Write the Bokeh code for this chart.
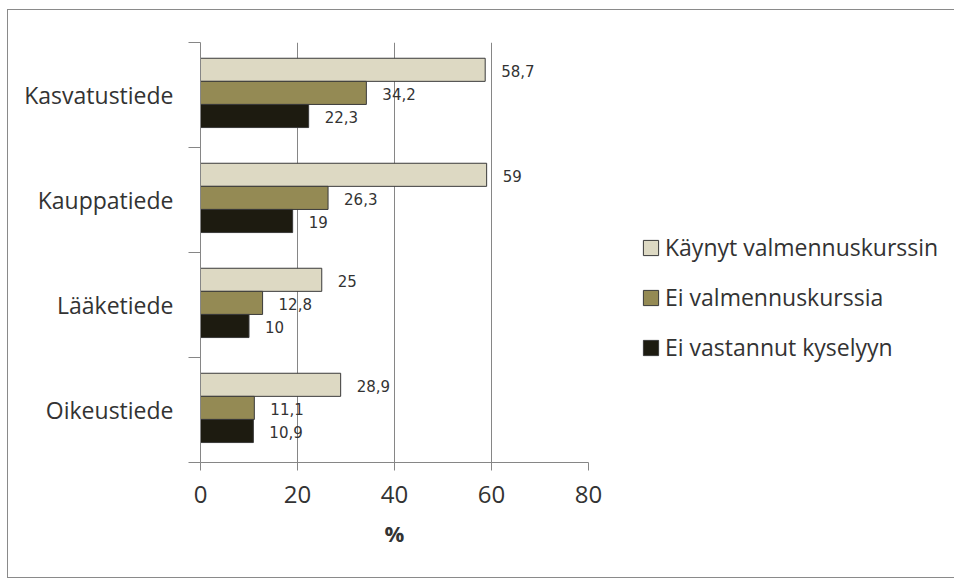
from bokeh.plotting import figure
from bokeh.models import (Range1d, LinearAxis, FixedTicker, ColumnDataSource, Legend, LegendItem)
from bokeh.transform import dodge
from bokeh.core.properties import value
from bokeh.embed import file_html
from bokeh.resources import INLINE

# ---- data ----
categories = ["Kasvatustiede", "Kauppatiede", "Lääketiede", "Oikeustiede"]
series_names = ["Käynyt valmennuskurssin", "Ei valmennuskurssia", "Ei vastannut kyselyyn"]
kaynyt = [58.7, 59, 25, 28.9]
ei_valmennusta = [34.2, 26.3, 12.8, 11.1]
ei_vastannut = [22.3, 19, 10, 10.9]
x_ticks = [0, 20, 40, 60, 80]
x_label = "%"

series_values = [kaynyt, ei_valmennusta, ei_vastannut]
colors = ["#DDD9C3", "#948A54", "#1D1B10"]
offsets = [0.24, 0.02, -0.20]
BAR_H = 0.22
TXT = "#333333"
AXIS_C = "#868686"

n = len(categories)
# category band centres (first category at top)
centres = [n - 0.5 - i for i in range(n)]


def fmt(v):
    return f"{v:g}".replace(".", ",")


p = figure(frame_width=388, frame_height=420,
           x_range=Range1d(0, 80),
           y_range=Range1d(0, n),
           output_backend="svg", toolbar_location=None,
           y_axis_location=None, x_axis_location="below",
           min_border_left=192, min_border_right=358,
           min_border_top=32, min_border_bottom=115)
p.outline_line_color = None
p.background_fill_color = "white"
p.border_fill_color = "white"
p.styles = {"border": "1px solid #8a8a8a", "margin-left": "7px", "margin-top": "9px"}
for gr in p.ygrid:
    gr.visible = False

# x axis
xt = FixedTicker(ticks=x_ticks)
xa = p.xaxis[0]
xa.ticker = xt
xa.axis_line_color = AXIS_C
xa.major_tick_line_color = AXIS_C
xa.major_tick_in = 0
xa.major_tick_out = 8
xa.minor_tick_line_color = None
xa.major_label_text_font = "Open Sans"
xa.major_label_text_font_size = "24px"
xa.major_label_text_color = TXT
xa.major_label_standoff = 15
xa.axis_label = x_label
xa.axis_label_text_font = "Open Sans"
xa.axis_label_text_font_size = "22px"
xa.axis_label_text_font_style = "bold"
xa.axis_label_text_color = TXT
xa.axis_label_standoff = 12

g = p.xgrid[0]
g.ticker = xt
g.grid_line_color = AXIS_C
g.grid_line_width = 1

# y axes: inner axis gives band-boundary ticks, outer axis gives category labels
inner = LinearAxis(ticker=FixedTicker(ticks=list(range(n + 1))))
inner.axis_line_color = AXIS_C
inner.major_tick_line_color = AXIS_C
inner.major_tick_in = 0
inner.major_tick_out = 12
inner.minor_tick_line_color = None
inner.major_label_overrides = {i: "" for i in range(n + 1)}
inner.major_label_text_font_size = "0px"
inner.major_label_standoff = 0
p.add_layout(inner, "left")

outer = LinearAxis(ticker=FixedTicker(ticks=centres))
outer.major_label_overrides = {c: cat for c, cat in zip(centres, categories)}
outer.axis_line_color = None
outer.major_tick_line_color = None
outer.minor_tick_line_color = None
outer.major_tick_in = 0
outer.major_tick_out = 0
outer.major_label_text_font = "Open Sans"
outer.major_label_text_font_size = "23px"
outer.major_label_text_color = TXT
outer.major_label_standoff = 15
p.add_layout(outer, "left")

# bars and labels
items = []
for name, vals, col, off in zip(series_names, series_values, colors, offsets):
    src = ColumnDataSource(dict(pos=centres, val=vals, lbl=[fmt(v) for v in vals]))
    r = p.hbar(y=dodge("pos", off), left=0, right="val", height=BAR_H,
               fill_color=col, line_color="#3a3a3a", line_width=1, source=src)
    items.append(LegendItem(label=name, renderers=[r]))
    p.text(x="val", y=dodge("pos", off), text="lbl", source=src,
           x_offset=16, y_offset=1, text_baseline="middle",
           text_font=value("DejaVu Sans"), text_font_size="15px", text_color=TXT)

leg = Legend(items=items, location=(53, 99))
leg.glyph_width = 19
leg.glyph_height = 19
leg.label_height = 30
leg.spacing = 18
leg.padding = 0
leg.margin = 0
leg.border_line_color = None
leg.background_fill_alpha = 0
leg.label_text_font = "Open Sans"
leg.label_text_font_size = "23px"
leg.label_text_color = TXT
leg.label_standoff = 5
p.add_layout(leg, "right")

open("out.html", "w").write(file_html(p, INLINE))
